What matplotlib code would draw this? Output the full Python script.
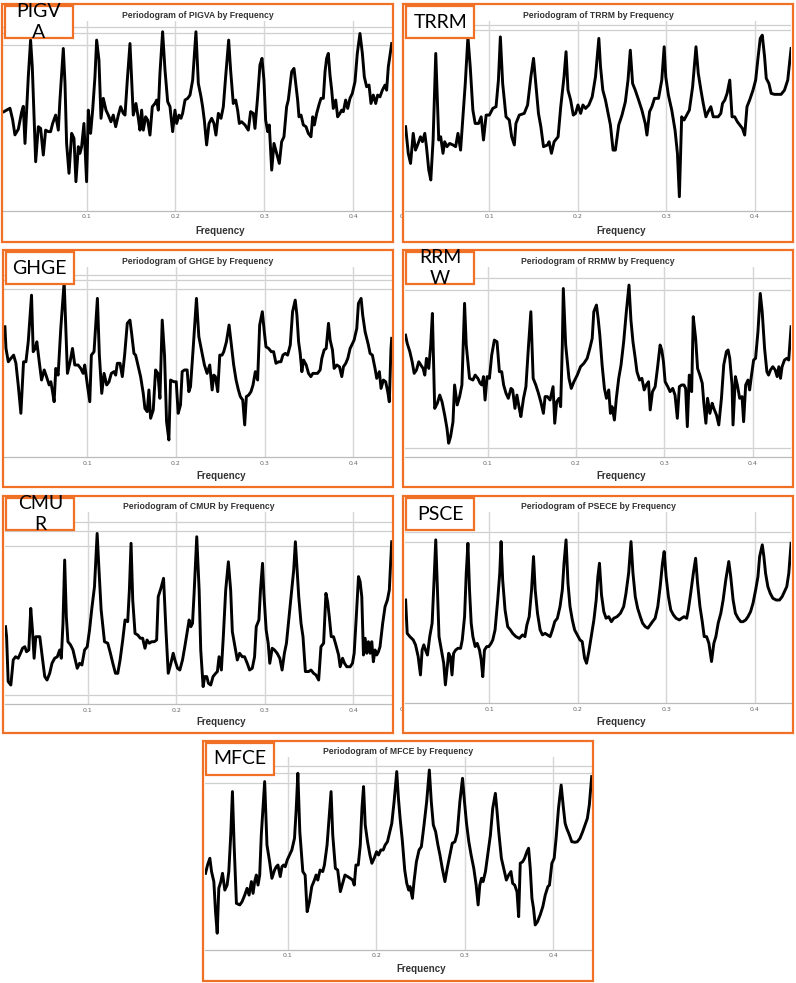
import matplotlib
matplotlib.use("Agg")
import matplotlib.pyplot as plt
from matplotlib.patches import Rectangle

W, H = 796, 983
ORANGE = '#F07026'

# periodogram traces: (frequency, power on a 0-100 scale)
pigva = [(0.0071, 52.2), (0.0101, 53.0), (0.0139, 54.0), (0.0169, 48.0), (0.0195, 40.0), (0.0233, 43.0), (0.0270, 52.0), (0.0289, 55.0), (0.0308, 35.5), (0.0345, 70.5), (0.0371, 89.8), (0.0390, 75.8), (0.0428, 25.9), (0.0458, 44.3), (0.0484, 43.4), (0.0514, 29.4), (0.0540, 42.5), (0.0570, 41.7), (0.0596, 41.7), (0.0619, 46.0), (0.0653, 50.4), (0.0683, 42.5), (0.0701, 58.3), (0.0739, 85.4), (0.0758, 67.0), (0.0776, 35.5), (0.0803, 19.8), (0.0833, 40.8), (0.0859, 38.2), (0.0881, 15.4), (0.0908, 33.8), (0.0926, 30.3), (0.0945, 33.8), (0.0971, 46.0), (0.1001, 15.4), (0.1020, 53.0), (0.1046, 40.8), (0.1069, 53.0), (0.1095, 70.5), (0.1114, 89.8), (0.1140, 79.3), (0.1163, 48.7), (0.1189, 59.2), (0.1219, 53.0), (0.1245, 50.4), (0.1275, 46.9), (0.1301, 50.4), (0.1328, 44.3), (0.1358, 50.4), (0.1384, 54.8), (0.1414, 51.3), (0.1433, 50.4), (0.1459, 68.8), (0.1489, 88.0), (0.1508, 68.8), (0.1526, 50.4), (0.1556, 56.5), (0.1583, 48.7), (0.1601, 42.5), (0.1620, 53.0), (0.1639, 42.5), (0.1665, 49.5), (0.1688, 47.8), (0.1714, 39.9), (0.1740, 54.8), (0.1770, 56.5), (0.1789, 58.3), (0.1808, 53.0), (0.1826, 72.3), (0.1856, 94.2), (0.1883, 74.0), (0.1913, 57.4), (0.1939, 54.8), (0.1969, 41.7), (0.1995, 53.0), (0.2014, 46.0), (0.2040, 50.4), (0.2063, 48.7), (0.2081, 51.3), (0.2108, 58.3), (0.2138, 59.2), (0.2164, 60.9), (0.2194, 68.8), (0.2231, 94.2), (0.2258, 67.0), (0.2288, 60.0), (0.2306, 54.8), (0.2325, 47.8), (0.2351, 34.7), (0.2378, 46.0), (0.2408, 48.7), (0.2434, 46.0), (0.2456, 39.9), (0.2483, 51.3), (0.2513, 48.7), (0.2539, 54.8), (0.2565, 70.5), (0.2599, 89.8), (0.2621, 74.0), (0.2651, 56.5), (0.2678, 58.3), (0.2700, 53.0), (0.2719, 46.0), (0.2745, 46.9), (0.2783, 45.2), (0.2820, 42.5), (0.2846, 52.2), (0.2876, 51.3), (0.2895, 43.4), (0.2925, 60.0), (0.2951, 76.7), (0.2974, 80.2), (0.2996, 68.8), (0.3015, 47.8), (0.3038, 41.7), (0.3056, 45.2), (0.3083, 21.5), (0.3109, 35.5), (0.3139, 30.3), (0.3169, 25.0), (0.3195, 36.4), (0.3221, 39.0), (0.3251, 54.8), (0.3270, 58.3), (0.3308, 73.2), (0.3334, 74.9), (0.3353, 67.0), (0.3375, 58.3), (0.3390, 49.5), (0.3413, 50.4), (0.3439, 45.2), (0.3469, 44.3), (0.3495, 40.8), (0.3525, 39.0), (0.3544, 49.5), (0.3563, 45.2), (0.3589, 51.3), (0.3619, 56.5), (0.3638, 59.2), (0.3664, 59.2), (0.3683, 73.2), (0.3701, 80.2), (0.3720, 82.8), (0.3739, 71.4), (0.3758, 63.5), (0.3776, 53.9), (0.3803, 58.3), (0.3825, 49.5), (0.3851, 51.3), (0.3870, 53.0), (0.3889, 52.2), (0.3915, 58.3), (0.3938, 53.9), (0.3964, 59.2), (0.3990, 61.8), (0.4020, 67.9), (0.4046, 82.8), (0.4076, 93.3), (0.4103, 82.8), (0.4125, 70.5), (0.4151, 65.3), (0.4178, 66.2), (0.4200, 56.5), (0.4226, 60.9), (0.4253, 56.5), (0.4275, 60.9), (0.4301, 60.0), (0.4328, 63.5), (0.4358, 66.2), (0.4376, 63.5), (0.4395, 75.8), (0.4433, 88.0)]

trrm = [(0.0053, 44.3), (0.0083, 30.3), (0.0109, 25.0), (0.0139, 40.8), (0.0165, 32.0), (0.0195, 35.5), (0.0221, 39.0), (0.0244, 36.4), (0.0270, 40.8), (0.0289, 33.8), (0.0315, 21.5), (0.0338, 16.3), (0.0364, 37.3), (0.0394, 82.8), (0.0428, 37.3), (0.0450, 39.0), (0.0476, 30.3), (0.0495, 36.4), (0.0521, 33.8), (0.0551, 35.5), (0.0589, 34.7), (0.0619, 33.8), (0.0645, 40.8), (0.0675, 32.0), (0.0701, 49.5), (0.0728, 67.0), (0.0758, 91.5), (0.0784, 75.8), (0.0814, 53.0), (0.0840, 46.0), (0.0878, 46.0), (0.0908, 49.5), (0.0934, 37.3), (0.0964, 50.4), (0.1001, 50.4), (0.1039, 53.9), (0.1076, 54.8), (0.1103, 68.8), (0.1125, 91.5), (0.1151, 67.0), (0.1189, 49.5), (0.1226, 47.8), (0.1253, 39.0), (0.1283, 34.7), (0.1301, 46.0), (0.1339, 50.4), (0.1395, 51.3), (0.1433, 55.7), (0.1470, 70.5), (0.1500, 80.2), (0.1526, 67.0), (0.1556, 51.3), (0.1583, 44.3), (0.1613, 33.8), (0.1658, 34.7), (0.1676, 36.4), (0.1703, 30.3), (0.1733, 36.4), (0.1778, 39.0), (0.1808, 54.8), (0.1845, 70.5), (0.1868, 83.7), (0.1890, 63.5), (0.1920, 58.3), (0.1950, 50.4), (0.1976, 51.3), (0.2003, 55.7), (0.2033, 51.3), (0.2059, 55.7), (0.2089, 53.9), (0.2126, 55.7), (0.2164, 60.0), (0.2201, 70.5), (0.2239, 90.7), (0.2258, 75.8), (0.2284, 63.5), (0.2314, 58.3), (0.2344, 51.3), (0.2370, 45.2), (0.2400, 32.0), (0.2426, 32.0), (0.2464, 45.2), (0.2501, 50.4), (0.2539, 57.4), (0.2569, 68.8), (0.2595, 84.5), (0.2621, 67.0), (0.2651, 63.5), (0.2689, 58.3), (0.2726, 53.0), (0.2764, 46.0), (0.2783, 39.9), (0.2813, 52.2), (0.2839, 54.8), (0.2869, 59.2), (0.2914, 59.2), (0.2951, 68.8), (0.2978, 86.3), (0.2996, 70.5), (0.3026, 60.9), (0.3064, 53.0), (0.3101, 42.5), (0.3128, 30.3), (0.3150, 7.5), (0.3176, 49.5), (0.3203, 47.8), (0.3233, 50.4), (0.3263, 53.0), (0.3300, 65.3), (0.3338, 86.3), (0.3364, 72.3), (0.3394, 63.5), (0.3420, 56.5), (0.3450, 49.5), (0.3476, 52.2), (0.3506, 54.8), (0.3533, 49.5), (0.3589, 49.5), (0.3619, 51.3), (0.3638, 56.5), (0.3664, 58.3), (0.3690, 61.8), (0.3720, 68.8), (0.3746, 49.5), (0.3776, 49.5), (0.3806, 46.9), (0.3833, 45.2), (0.3863, 43.4), (0.3889, 39.9), (0.3915, 54.8), (0.3945, 58.3), (0.3983, 63.5), (0.4013, 68.8), (0.4039, 80.2), (0.4065, 90.7), (0.4088, 92.4), (0.4114, 81.0), (0.4133, 69.7), (0.4163, 67.0), (0.4189, 61.8), (0.4226, 61.3), (0.4301, 61.3), (0.4339, 63.5), (0.4376, 68.8), (0.4414, 85.4)]

ghge = [(0.0071, 68.6), (0.0083, 57.2), (0.0109, 50.2), (0.0139, 52.0), (0.0169, 53.7), (0.0195, 49.4), (0.0221, 38.0), (0.0251, 23.1), (0.0281, 50.2), (0.0308, 50.2), (0.0334, 60.7), (0.0371, 85.2), (0.0390, 55.5), (0.0413, 57.2), (0.0431, 60.7), (0.0458, 50.2), (0.0484, 40.6), (0.0514, 45.9), (0.0540, 42.4), (0.0570, 38.0), (0.0589, 39.7), (0.0608, 34.5), (0.0626, 29.2), (0.0645, 46.7), (0.0671, 43.2), (0.0701, 67.7), (0.0739, 92.2), (0.0758, 67.7), (0.0776, 44.1), (0.0806, 50.2), (0.0833, 57.2), (0.0859, 48.5), (0.0896, 48.5), (0.0926, 46.7), (0.0953, 44.1), (0.0971, 48.5), (0.1001, 38.0), (0.1028, 29.2), (0.1046, 53.7), (0.1076, 55.5), (0.1114, 83.5), (0.1136, 53.7), (0.1163, 33.6), (0.1189, 44.1), (0.1219, 38.0), (0.1245, 39.7), (0.1271, 44.1), (0.1301, 45.0), (0.1320, 43.2), (0.1339, 49.4), (0.1369, 49.4), (0.1395, 42.4), (0.1421, 53.7), (0.1451, 70.4), (0.1481, 72.1), (0.1500, 65.1), (0.1526, 54.6), (0.1545, 53.7), (0.1571, 48.5), (0.1601, 42.4), (0.1631, 33.6), (0.1650, 25.7), (0.1676, 24.0), (0.1695, 35.4), (0.1714, 20.5), (0.1744, 24.9), (0.1770, 45.9), (0.1796, 44.1), (0.1819, 31.0), (0.1845, 72.1), (0.1871, 53.7), (0.1894, 18.7), (0.1920, 9.1), (0.1939, 40.6), (0.1976, 39.7), (0.2003, 39.7), (0.2025, 23.1), (0.2051, 27.5), (0.2070, 45.0), (0.2096, 45.9), (0.2126, 45.9), (0.2145, 34.5), (0.2164, 37.1), (0.2194, 57.2), (0.2231, 83.5), (0.2258, 63.4), (0.2276, 59.0), (0.2295, 54.6), (0.2321, 48.5), (0.2351, 44.1), (0.2381, 48.5), (0.2408, 35.4), (0.2426, 43.2), (0.2445, 42.4), (0.2471, 34.5), (0.2494, 53.7), (0.2520, 53.7), (0.2539, 55.5), (0.2569, 60.7), (0.2599, 69.5), (0.2625, 59.0), (0.2651, 48.5), (0.2678, 40.6), (0.2704, 35.4), (0.2726, 31.9), (0.2753, 30.1), (0.2775, 17.0), (0.2794, 31.9), (0.2820, 32.7), (0.2846, 34.5), (0.2869, 38.0), (0.2895, 45.0), (0.2921, 40.6), (0.2944, 69.5), (0.2974, 76.5), (0.2996, 66.0), (0.3015, 58.1), (0.3045, 57.2), (0.3075, 55.5), (0.3101, 55.5), (0.3128, 49.4), (0.3158, 50.2), (0.3184, 50.2), (0.3206, 53.7), (0.3233, 54.6), (0.3259, 53.7), (0.3289, 59.0), (0.3315, 76.5), (0.3345, 82.6), (0.3364, 74.7), (0.3383, 60.7), (0.3401, 54.6), (0.3420, 45.0), (0.3439, 51.1), (0.3469, 48.5), (0.3495, 44.1), (0.3521, 42.4), (0.3544, 44.1), (0.3596, 44.1), (0.3626, 45.9), (0.3645, 52.0), (0.3671, 56.4), (0.3694, 57.2), (0.3720, 70.4), (0.3739, 61.6), (0.3765, 56.4), (0.3784, 46.7), (0.3814, 48.5), (0.3844, 47.6), (0.3870, 42.4), (0.3889, 47.6), (0.3915, 49.4), (0.3938, 52.0), (0.3964, 57.2), (0.3983, 59.0), (0.4009, 61.6), (0.4039, 67.7), (0.4058, 80.9), (0.4088, 83.5), (0.4106, 74.7), (0.4133, 66.0), (0.4151, 62.5), (0.4170, 59.0), (0.4189, 54.6), (0.4215, 53.7), (0.4245, 46.7), (0.4264, 41.5), (0.4294, 45.0), (0.4313, 36.2), (0.4339, 40.6), (0.4365, 39.7), (0.4388, 34.5), (0.4406, 29.2), (0.4425, 57.2), (0.4433, 62.5)]

rrmw = [(0.0071, 64.2), (0.0090, 59.9), (0.0120, 55.5), (0.0146, 50.2), (0.0169, 44.1), (0.0195, 45.9), (0.0221, 50.2), (0.0244, 48.5), (0.0270, 46.7), (0.0289, 43.2), (0.0308, 52.0), (0.0334, 46.7), (0.0356, 59.0), (0.0375, 75.6), (0.0401, 25.7), (0.0431, 28.4), (0.0458, 32.7), (0.0484, 29.2), (0.0514, 22.2), (0.0540, 15.2), (0.0559, 7.4), (0.0581, 10.9), (0.0608, 18.7), (0.0626, 38.0), (0.0656, 27.5), (0.0683, 31.9), (0.0709, 38.0), (0.0739, 80.9), (0.0758, 59.0), (0.0795, 41.5), (0.0833, 40.6), (0.0859, 43.2), (0.0889, 41.5), (0.0915, 38.9), (0.0934, 38.0), (0.0953, 42.4), (0.0971, 30.1), (0.0994, 42.4), (0.1020, 41.5), (0.1046, 53.7), (0.1076, 61.6), (0.1106, 60.7), (0.1133, 45.0), (0.1159, 45.0), (0.1181, 38.0), (0.1208, 33.6), (0.1234, 31.0), (0.1264, 36.2), (0.1283, 35.4), (0.1309, 25.7), (0.1331, 32.7), (0.1358, 25.7), (0.1376, 21.4), (0.1406, 31.0), (0.1433, 37.1), (0.1463, 59.0), (0.1489, 76.5), (0.1515, 41.5), (0.1545, 38.0), (0.1575, 33.6), (0.1601, 29.2), (0.1631, 23.1), (0.1650, 31.9), (0.1676, 31.9), (0.1706, 30.1), (0.1740, 37.1), (0.1759, 17.9), (0.1781, 29.2), (0.1808, 31.0), (0.1826, 26.6), (0.1845, 59.0), (0.1856, 88.7), (0.1883, 59.0), (0.1920, 41.5), (0.1946, 36.2), (0.1976, 39.7), (0.2014, 43.2), (0.2051, 47.6), (0.2089, 49.4), (0.2126, 52.0), (0.2156, 57.2), (0.2183, 62.5), (0.2201, 76.5), (0.2231, 80.0), (0.2250, 73.0), (0.2269, 64.2), (0.2295, 48.5), (0.2321, 36.2), (0.2344, 31.0), (0.2370, 35.4), (0.2389, 23.1), (0.2408, 26.6), (0.2434, 19.6), (0.2456, 31.0), (0.2483, 41.5), (0.2509, 48.5), (0.2539, 60.7), (0.2569, 76.5), (0.2599, 90.5), (0.2621, 72.1), (0.2644, 60.7), (0.2670, 52.0), (0.2689, 45.0), (0.2719, 40.6), (0.2745, 41.5), (0.2771, 35.4), (0.2794, 38.0), (0.2820, 39.7), (0.2839, 24.9), (0.2865, 34.5), (0.2895, 37.1), (0.2921, 46.7), (0.2951, 59.0), (0.2970, 56.4), (0.2989, 50.2), (0.3008, 39.7), (0.3038, 37.1), (0.3064, 34.5), (0.3094, 36.2), (0.3120, 32.7), (0.3146, 20.5), (0.3169, 37.1), (0.3195, 38.0), (0.3221, 38.0), (0.3240, 36.2), (0.3259, 16.1), (0.3281, 43.2), (0.3308, 34.5), (0.3326, 73.9), (0.3353, 62.5), (0.3375, 46.7), (0.3401, 43.2), (0.3428, 38.9), (0.3446, 28.4), (0.3469, 17.9), (0.3488, 31.0), (0.3514, 23.1), (0.3540, 28.4), (0.3559, 25.7), (0.3589, 22.2), (0.3615, 17.0), (0.3645, 31.0), (0.3671, 48.5), (0.3701, 55.5), (0.3720, 56.4), (0.3739, 52.0), (0.3765, 38.0), (0.3776, 17.0), (0.3803, 42.4), (0.3825, 38.0), (0.3851, 31.0), (0.3878, 31.9), (0.3896, 18.7), (0.3919, 38.0), (0.3945, 40.6), (0.3964, 35.4), (0.3983, 42.4), (0.4009, 51.1), (0.4031, 52.0), (0.4058, 66.0), (0.4084, 86.1), (0.4106, 76.5), (0.4133, 57.2), (0.4159, 45.0), (0.4178, 43.2), (0.4200, 45.9), (0.4226, 47.6), (0.4253, 45.9), (0.4275, 42.4), (0.4294, 47.6), (0.4313, 41.5), (0.4331, 47.6), (0.4358, 51.1), (0.4384, 52.0), (0.4406, 51.1), (0.4433, 68.6)]

cmur = [(0.0071, 40.3), (0.0083, 35.1), (0.0101, 11.8), (0.0131, 10.0), (0.0158, 23.0), (0.0184, 24.7), (0.0214, 23.9), (0.0240, 26.5), (0.0263, 29.1), (0.0289, 29.9), (0.0308, 27.3), (0.0334, 28.2), (0.0356, 49.8), (0.0375, 38.6), (0.0394, 23.9), (0.0413, 35.1), (0.0439, 35.1), (0.0458, 35.1), (0.0476, 28.2), (0.0495, 21.3), (0.0514, 14.4), (0.0540, 12.6), (0.0570, 16.1), (0.0596, 21.3), (0.0626, 23.9), (0.0656, 24.7), (0.0683, 28.2), (0.0701, 23.9), (0.0720, 42.0), (0.0739, 74.9), (0.0758, 45.5), (0.0776, 32.5), (0.0806, 30.8), (0.0833, 28.2), (0.0859, 23.0), (0.0881, 18.7), (0.0908, 21.3), (0.0934, 20.4), (0.0964, 28.2), (0.0994, 29.9), (0.1020, 38.6), (0.1046, 49.8), (0.1076, 61.1), (0.1106, 88.7), (0.1125, 71.4), (0.1151, 49.0), (0.1189, 32.5), (0.1226, 31.7), (0.1256, 26.5), (0.1283, 21.3), (0.1313, 16.1), (0.1339, 16.1), (0.1365, 23.0), (0.1395, 33.4), (0.1421, 43.8), (0.1451, 42.9), (0.1470, 59.3), (0.1489, 83.6), (0.1508, 54.1), (0.1534, 36.8), (0.1564, 36.0), (0.1594, 34.3), (0.1620, 34.3), (0.1646, 29.1), (0.1669, 33.4), (0.1695, 31.7), (0.1721, 32.5), (0.1751, 32.5), (0.1778, 33.4), (0.1796, 55.9), (0.1826, 60.2), (0.1856, 65.4), (0.1883, 38.6), (0.1909, 16.1), (0.1939, 21.3), (0.1965, 26.5), (0.1984, 23.0), (0.2014, 18.7), (0.2040, 17.8), (0.2070, 23.0), (0.2096, 29.9), (0.2126, 38.6), (0.2145, 43.8), (0.2164, 40.3), (0.2183, 42.0), (0.2201, 57.6), (0.2231, 87.0), (0.2258, 59.3), (0.2276, 28.2), (0.2303, 9.2), (0.2321, 14.4), (0.2344, 14.4), (0.2363, 10.9), (0.2389, 10.0), (0.2415, 14.4), (0.2445, 16.1), (0.2464, 17.0), (0.2483, 24.7), (0.2509, 17.8), (0.2531, 35.1), (0.2558, 59.3), (0.2588, 74.0), (0.2614, 59.3), (0.2633, 37.7), (0.2659, 30.8), (0.2689, 23.0), (0.2715, 26.5), (0.2745, 24.7), (0.2771, 24.7), (0.2801, 21.3), (0.2828, 17.8), (0.2858, 18.7), (0.2884, 24.7), (0.2903, 40.3), (0.2933, 43.8), (0.2951, 59.3), (0.2974, 73.2), (0.2989, 57.6), (0.3015, 38.6), (0.3038, 31.7), (0.3056, 21.3), (0.3083, 29.1), (0.3109, 28.2), (0.3139, 26.5), (0.3169, 23.9), (0.3195, 17.8), (0.3221, 26.5), (0.3244, 31.7), (0.3270, 43.8), (0.3296, 55.9), (0.3326, 69.7), (0.3345, 84.4), (0.3364, 69.7), (0.3383, 55.9), (0.3409, 42.0), (0.3431, 35.1), (0.3458, 17.0), (0.3495, 17.0), (0.3521, 17.8), (0.3551, 16.1), (0.3578, 15.2), (0.3608, 12.6), (0.3634, 29.9), (0.3664, 31.7), (0.3690, 57.6), (0.3709, 53.3), (0.3728, 45.5), (0.3750, 35.1), (0.3776, 35.1), (0.3803, 30.8), (0.3833, 25.6), (0.3851, 19.5), (0.3878, 23.9), (0.3900, 21.3), (0.3926, 19.5), (0.3964, 19.5), (0.3990, 21.3), (0.4009, 26.5), (0.4031, 43.8), (0.4058, 66.3), (0.4076, 63.7), (0.4095, 55.9), (0.4114, 25.6), (0.4133, 34.3), (0.4151, 26.5), (0.4170, 32.5), (0.4189, 26.5), (0.4208, 32.5), (0.4226, 22.1), (0.4245, 28.2), (0.4264, 25.6), (0.4283, 27.3), (0.4301, 29.9), (0.4331, 42.0), (0.4358, 50.7), (0.4384, 54.1), (0.4406, 59.3), (0.4433, 84.4)]

psce = [(0.0053, 53.9), (0.0071, 36.5), (0.0101, 34.8), (0.0139, 33.1), (0.0165, 30.5), (0.0195, 24.4), (0.0221, 14.8), (0.0240, 27.8), (0.0259, 30.5), (0.0278, 27.8), (0.0300, 25.2), (0.0326, 34.8), (0.0353, 41.8), (0.0375, 64.4), (0.0394, 85.3), (0.0413, 59.2), (0.0431, 34.8), (0.0458, 27.8), (0.0484, 20.9), (0.0503, 9.6), (0.0521, 17.4), (0.0540, 26.1), (0.0559, 24.4), (0.0578, 14.8), (0.0596, 26.1), (0.0619, 27.8), (0.0645, 28.7), (0.0675, 28.7), (0.0694, 33.1), (0.0720, 45.2), (0.0739, 67.9), (0.0758, 83.5), (0.0776, 59.2), (0.0795, 41.8), (0.0814, 34.8), (0.0840, 29.6), (0.0863, 31.3), (0.0889, 27.8), (0.0908, 22.6), (0.0926, 13.9), (0.0945, 27.8), (0.0971, 29.6), (0.0994, 29.6), (0.1020, 31.3), (0.1039, 33.1), (0.1065, 38.3), (0.1095, 53.9), (0.1118, 67.9), (0.1133, 84.4), (0.1151, 64.4), (0.1178, 48.7), (0.1208, 40.0), (0.1238, 38.3), (0.1264, 36.5), (0.1301, 34.8), (0.1339, 33.9), (0.1376, 35.7), (0.1403, 34.8), (0.1425, 40.9), (0.1451, 45.2), (0.1478, 59.2), (0.1500, 76.6), (0.1519, 59.2), (0.1545, 47.0), (0.1575, 38.3), (0.1601, 35.7), (0.1631, 36.5), (0.1658, 35.7), (0.1688, 34.8), (0.1714, 38.3), (0.1740, 42.6), (0.1770, 44.4), (0.1800, 50.5), (0.1826, 59.2), (0.1845, 73.1), (0.1868, 85.3), (0.1890, 62.6), (0.1913, 50.5), (0.1939, 43.5), (0.1965, 38.3), (0.1995, 35.7), (0.2025, 33.1), (0.2051, 32.2), (0.2078, 23.5), (0.2100, 20.9), (0.2126, 27.0), (0.2153, 34.8), (0.2183, 43.5), (0.2209, 53.9), (0.2228, 66.1), (0.2246, 73.1), (0.2269, 56.6), (0.2295, 47.9), (0.2321, 44.4), (0.2351, 45.2), (0.2381, 42.6), (0.2408, 44.4), (0.2445, 45.2), (0.2483, 47.0), (0.2520, 50.5), (0.2546, 57.4), (0.2576, 67.9), (0.2603, 84.4), (0.2625, 67.9), (0.2651, 55.7), (0.2678, 49.6), (0.2708, 45.2), (0.2734, 41.8), (0.2764, 40.0), (0.2794, 39.2), (0.2820, 40.9), (0.2846, 42.6), (0.2876, 44.4), (0.2906, 50.5), (0.2933, 60.9), (0.2959, 73.1), (0.2978, 79.2), (0.3000, 66.1), (0.3026, 55.7), (0.3053, 48.7), (0.3083, 46.1), (0.3113, 44.4), (0.3150, 43.5), (0.3176, 44.4), (0.3203, 45.2), (0.3233, 44.4), (0.3251, 48.7), (0.3278, 57.4), (0.3308, 67.9), (0.3334, 75.7), (0.3356, 62.6), (0.3383, 50.5), (0.3409, 42.6), (0.3431, 34.8), (0.3458, 34.8), (0.3484, 31.3), (0.3514, 21.8), (0.3540, 31.3), (0.3563, 34.8), (0.3589, 41.8), (0.3619, 47.0), (0.3645, 53.9), (0.3675, 64.4), (0.3709, 74.0), (0.3731, 66.1), (0.3758, 53.9), (0.3784, 47.0), (0.3814, 44.4), (0.3844, 42.6), (0.3870, 42.6), (0.3900, 43.5), (0.3926, 45.2), (0.3956, 47.9), (0.3983, 52.2), (0.4013, 59.2), (0.4039, 66.1), (0.4058, 76.6), (0.4088, 82.7), (0.4106, 76.6), (0.4125, 67.9), (0.4151, 60.9), (0.4178, 57.4), (0.4208, 54.8), (0.4245, 53.9), (0.4283, 53.9), (0.4313, 55.7), (0.4339, 58.3), (0.4365, 60.9), (0.4388, 67.9), (0.4414, 83.5)]

mfce = [(0.0071, 39.8), (0.0094, 44.1), (0.0120, 47.6), (0.0139, 40.7), (0.0165, 35.5), (0.0184, 19.9), (0.0203, 8.7), (0.0221, 32.0), (0.0244, 35.5), (0.0263, 39.8), (0.0289, 31.1), (0.0315, 33.7), (0.0334, 40.7), (0.0356, 59.7), (0.0375, 82.2), (0.0394, 54.5), (0.0420, 24.2), (0.0458, 23.4), (0.0484, 25.1), (0.0514, 28.5), (0.0540, 32.0), (0.0563, 28.5), (0.0589, 35.5), (0.0608, 29.4), (0.0626, 35.5), (0.0645, 38.9), (0.0664, 33.7), (0.0683, 38.9), (0.0701, 59.7), (0.0739, 87.4), (0.0765, 54.5), (0.0795, 45.8), (0.0821, 37.2), (0.0851, 41.5), (0.0870, 43.2), (0.0889, 44.1), (0.0915, 38.1), (0.0934, 43.2), (0.0953, 44.1), (0.0971, 43.2), (0.0994, 46.7), (0.1020, 49.3), (0.1046, 51.9), (0.1076, 58.0), (0.1095, 72.7), (0.1114, 91.7), (0.1136, 61.4), (0.1170, 40.7), (0.1196, 38.9), (0.1219, 19.9), (0.1245, 25.1), (0.1271, 32.9), (0.1301, 36.3), (0.1320, 38.9), (0.1339, 36.3), (0.1365, 41.5), (0.1395, 40.7), (0.1414, 44.1), (0.1444, 54.5), (0.1470, 70.1), (0.1489, 82.2), (0.1508, 59.7), (0.1538, 42.4), (0.1564, 41.5), (0.1594, 30.3), (0.1620, 34.6), (0.1646, 38.9), (0.1676, 38.1), (0.1706, 37.2), (0.1733, 36.3), (0.1751, 33.7), (0.1770, 44.1), (0.1796, 44.1), (0.1819, 54.5), (0.1838, 73.5), (0.1856, 84.8), (0.1875, 64.9), (0.1901, 56.2), (0.1928, 49.3), (0.1950, 45.0), (0.1976, 47.6), (0.2003, 51.0), (0.2025, 49.3), (0.2051, 51.9), (0.2078, 51.9), (0.2100, 54.5), (0.2126, 56.2), (0.2153, 61.4), (0.2175, 65.7), (0.2201, 77.0), (0.2231, 92.6), (0.2250, 78.7), (0.2269, 68.3), (0.2295, 56.2), (0.2321, 41.5), (0.2344, 34.6), (0.2366, 31.1), (0.2381, 32.9), (0.2408, 26.8), (0.2426, 35.5), (0.2453, 45.8), (0.2483, 51.9), (0.2509, 53.6), (0.2539, 64.9), (0.2569, 77.0), (0.2599, 93.4), (0.2621, 77.0), (0.2644, 64.9), (0.2670, 61.4), (0.2696, 54.5), (0.2719, 49.3), (0.2745, 42.4), (0.2775, 35.5), (0.2801, 42.4), (0.2831, 49.3), (0.2858, 55.4), (0.2888, 56.2), (0.2914, 60.6), (0.2944, 77.0), (0.2974, 89.1), (0.2996, 77.0), (0.3019, 65.7), (0.3045, 56.2), (0.3071, 49.3), (0.3101, 42.4), (0.3128, 33.7), (0.3150, 23.4), (0.3169, 33.7), (0.3188, 37.2), (0.3206, 35.5), (0.3233, 40.7), (0.3263, 51.0), (0.3289, 59.7), (0.3315, 73.5), (0.3345, 81.3), (0.3364, 71.8), (0.3383, 61.4), (0.3413, 47.6), (0.3439, 42.4), (0.3469, 36.3), (0.3495, 38.9), (0.3521, 40.7), (0.3540, 34.6), (0.3563, 33.7), (0.3589, 30.3), (0.3608, 17.3), (0.3626, 45.0), (0.3653, 45.8), (0.3675, 47.6), (0.3701, 51.0), (0.3720, 52.8), (0.3739, 42.4), (0.3758, 26.8), (0.3776, 21.6), (0.3795, 13.0), (0.3821, 14.7), (0.3851, 18.2), (0.3881, 22.5), (0.3908, 28.5), (0.3938, 32.9), (0.3956, 33.7), (0.3983, 45.0), (0.4009, 47.6), (0.4031, 58.0), (0.4058, 73.5), (0.4088, 85.6), (0.4114, 73.5), (0.4133, 65.7), (0.4151, 63.1), (0.4181, 59.7), (0.4208, 56.2), (0.4245, 55.9), (0.4271, 56.2), (0.4301, 58.0), (0.4331, 61.4), (0.4358, 64.9), (0.4384, 68.3), (0.4406, 75.3), (0.4433, 90.0)]

xticks = [0.1, 0.2, 0.3, 0.4]
xtick_labels = ['0.1', '0.2', '0.3', '0.4']

# name in title, boxed label, data, panel box (px), axes top/bottom (px), x range, horizontal grid
panels = [
    ('PIGVA', 'PIGV\nA', pigva, (1.7, 4, 393.3, 242.3), (20.7, 211.0), (0.0064, 0.4433), [96.5, 93.3, 87.2], False),
    ('TRRM', 'TRRM', trrm, (403.3, 4, 792.7, 242.3), (20.7, 211.0), (0.0045, 0.4414), [97.7, 95.0], True),
    ('GHGE', 'GHGE', ghge, (2.7, 250, 393.3, 487.3), (267.0, 457.3), (0.0064, 0.4433), [95.7, 93.1, 88.2], False),
    ('RRMW', 'RRM\nW', rrmw, (403.3, 250, 792.7, 487.3), (267.0, 457.3), (0.0064, 0.4433), [94.0, 87.9, 4.7], False),
    ('CMUR', 'CMU\nR', cmur, (3.3, 496, 393.3, 733.3), (511.7, 704.3), (0.0064, 0.4433), [94.5, 90.1, 82.2, 4.8], False),
    ('PSECE', 'PSCE', psce, (403.3, 496, 792.7, 733.3), (511.7, 703.3), (0.0045, 0.4414), [89.6, 84.4], True),
    ('MFCE', 'MFCE', mfce, (203.3, 741, 593.3, 981), (757.3, 950.0), (0.0064, 0.4433), [95.5, 92.0, 86.8], False),
]

fig = plt.figure(figsize=(W / 100, H / 100), dpi=100)
fig.patch.set_facecolor('white')


def fx(x):
    return x / W


def fy(y):
    return 1 - y / H


for name, label, data, box, ay, xlim, hgrid, zero in panels:
    bx0, by0, bx1, by1 = box
    ax = fig.add_axes([fx(bx0 + 1.6), fy(ay[1]), (bx1 - bx0 - 3.2) / W, (ay[1] - ay[0]) / H])
    freq, power = zip(*data)
    for v in hgrid:
        ax.axhline(v, color='#cfcfcf', lw=0.9, zorder=0)
    for t in xticks:
        ax.axvline(t, color='#d6d6d6', lw=1.0, zorder=0)
    ax.plot(freq, power, color='black', lw=2.1, zorder=2)
    ax.set_xlim(*xlim)
    ax.set_ylim(0, 100)
    ax.set_xticks(xticks)
    ax.set_xticklabels(xtick_labels)
    ax.set_yticks([])
    ax.tick_params(axis='x', length=0, pad=2.5, labelsize=4.5, labelcolor='#666666')
    for s in ['top', 'left', 'right']:
        ax.spines[s].set_visible(False)
    ax.spines['bottom'].set_color('#bbbbbb')
    ax.spines['bottom'].set_linewidth(0.9)
    if zero:
        ax.text(0.0012, -0.018, '0', transform=ax.get_xaxis_transform(), ha='center', va='top',
                fontsize=4.5, color='#666666', clip_on=False)

    fig.text(fx((bx0 + bx1) / 2), fy(by0 + 11), f'Periodogram of {name} by Frequency',
             ha='center', va='center', fontsize=6.2, fontweight='bold', color='#333333',
             family='Liberation Sans')
    fig.text(fx(bx0 + 218), fy(by1 - 11.5), 'Frequency', ha='center', va='center',
             fontsize=7, fontweight='bold', color='#333333', family='Liberation Sans')

    fig.patches.append(Rectangle((fx(bx0), fy(by1)), (bx1 - bx0) / W, (by1 - by0) / H,
                                 transform=fig.transFigure, fill=False, edgecolor=ORANGE,
                                 lw=1.6, zorder=3))
    fig.patches.append(Rectangle((fx(bx0 + 3), fy(by0 + 34)), 68 / W, 32 / H,
                                 transform=fig.transFigure, facecolor='white', edgecolor=ORANGE,
                                 lw=1.6, zorder=3))
    fig.text(fx(bx0 + 37), fy(by0 + 18), label, ha='center', va='center', fontsize=14,
             family='Lato', color='black', linespacing=1.25, zorder=4)

fig.savefig('out.png', dpi=100)
